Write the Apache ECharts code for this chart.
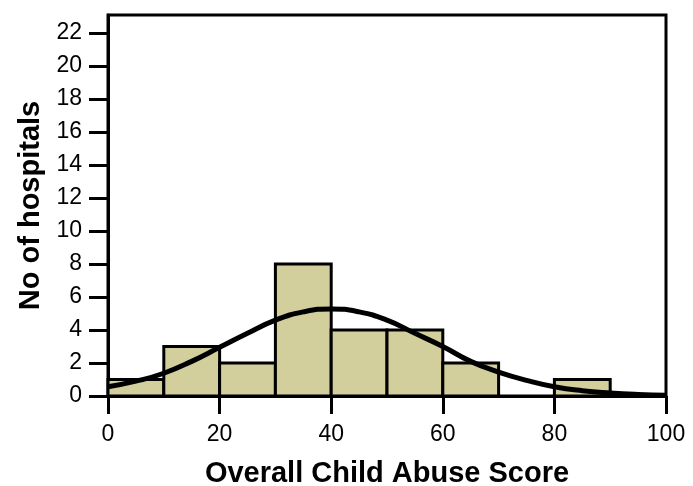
<!DOCTYPE html>
<html>
<head>
<meta charset="utf-8">
<script src="https://cdn.jsdelivr.net/npm/echarts@6/dist/echarts.min.js"></script>
<style>html,body{margin:0;padding:0;background:#fff;}#c{width:693px;height:486px;}</style>
</head>
<body>
<div id="c"></div>
<script>
// Histogram bins (start, end) and counts
var binStarts = [0, 10, 20, 30, 40, 50, 60, 70, 80, 90];
var binEnds   = [10, 20, 30, 40, 50, 60, 70, 80, 90, 100];
var counts    = [1, 3, 2, 8, 4, 4, 2, 0, 1, 0];
// Normal curve
var curveX = [0, 5, 10, 15, 20, 25, 30, 35, 40, 45, 50, 55, 60, 65, 70, 75, 80, 85, 90, 95, 100];
var curveY = [0.56, 0.9, 1.38, 2.1, 2.95, 3.8, 4.6, 5.1, 5.28, 5.1, 4.6, 3.8, 3.0, 2.1, 1.45, 0.95, 0.56, 0.32, 0.18, 0.09, 0.04];
var xTicks = [0, 20, 40, 60, 80, 100];
var yTicks = [0, 2, 4, 6, 8, 10, 12, 14, 16, 18, 20, 22];

var barData = binStarts.map(function (s, i) { return [s, binEnds[i], counts[i]]; }).filter(function (d) { return d[2] > 0; });
var lineData = curveX.map(function (x, i) { return [x, curveY[i]]; });

var chart = echarts.init(document.getElementById('c'), null, { renderer: 'canvas' });
var font = '"Liberation Sans", Arial, sans-serif';
chart.setOption({
  animation: false,
  backgroundColor: '#fff',
  grid: { left: 108, right: 27, top: 15, bottom: 90, outerBoundsMode: 'none', containLabel: false, show: true, borderColor: '#000', borderWidth: 3, backgroundColor: 'transparent' },
  xAxis: {
    type: 'value', min: 0, max: 100, interval: 20,
    name: 'Overall Child Abuse Score', nameLocation: 'middle', nameGap: 63,
    nameTextStyle: { fontFamily: font, fontWeight: 'bold', fontSize: 29, color: '#000' },
    axisLine: { onZero: false, lineStyle: { color: '#000', width: 3 } },
    axisTick: { show: true, inside: false, length: 18, lineStyle: { color: '#000', width: 3 }, customValues: xTicks },
    axisLabel: { fontFamily: font, fontSize: 23, color: '#000', margin: 27, customValues: xTicks },
    splitLine: { show: false }
  },
  yAxis: {
    type: 'value', min: 0, max: 23.1,
    name: 'No of hospitals', nameLocation: 'middle', nameGap: 59,
    nameTextStyle: { fontFamily: font, fontWeight: 'bold', fontSize: 29, color: '#000' },
    axisLine: { onZero: false, lineStyle: { color: '#000', width: 3 } },
    axisTick: { show: true, inside: false, length: 19, lineStyle: { color: '#000', width: 3 }, customValues: yTicks },
    axisLabel: { fontFamily: font, fontSize: 23, color: '#000', margin: 26, customValues: yTicks },
    splitLine: { show: false }
  },
  series: [
    {
      type: 'custom',
      data: barData,
      encode: { x: [0, 1], y: 2 },
      renderItem: function (params, api) {
        var p0 = api.coord([api.value(0), api.value(2)]);
        var p1 = api.coord([api.value(1), 0]);
        return {
          type: 'rect',
          shape: { x: p0[0], y: p0[1], width: p1[0] - p0[0], height: p1[1] - p0[1] },
          style: { fill: '#D3CF9C', stroke: '#000', lineWidth: 3 }
        };
      },
      z: 2
    },
    {
      type: 'line',
      data: lineData,
      smooth: true,
      showSymbol: false,
      symbol: 'none',
      lineStyle: { color: '#000', width: 5 },
      z: 3
    }
  ]
});
</script>
</body>
</html>
